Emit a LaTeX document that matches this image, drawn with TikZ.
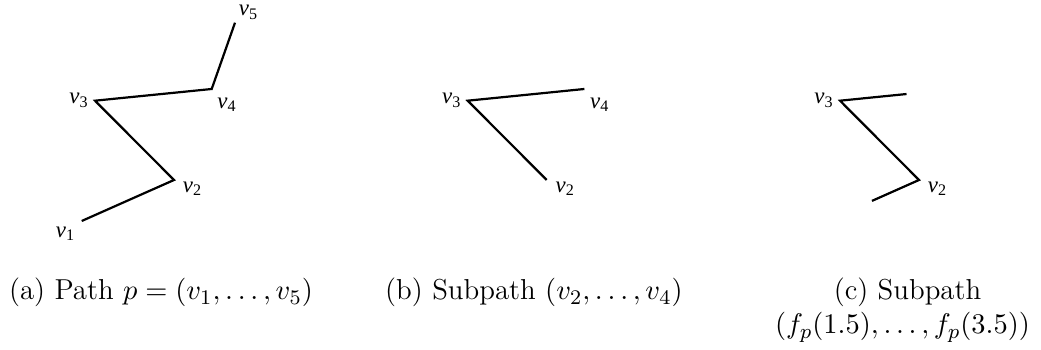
\documentclass[tikz,border=0pt]{standalone}
\usepackage{fontspec}
\newfontfamily\timesf{Liberation Serif}
\usetikzlibrary{calc}
\newcommand\vlab[1]{{\timesf\fontsize{8.8}{9}\selectfont\itshape v\raisebox{-1.3pt}{\upshape\fontsize{6.2}{6}\selectfont #1}}}
\tikzset{
  pathline/.style={line width=0.85pt, line join=miter},
  vlabel/.style={inner sep=0pt, anchor=center},
  caption/.style={inner sep=0pt, anchor=base, font=\fontsize{11.1}{13}\selectfont}
}
\begin{document}
\begin{tikzpicture}[x=0.385pt, y=-0.385pt]
\useasboundingbox (0,0) rectangle (1041,350);
% panel (a)
\coordinate (a1) at (81.7,221);
\coordinate (a2) at (174,180);
\coordinate (a3) at (95,100.7);
\coordinate (a4) at (211.7,89);
\coordinate (a5) at (235,22.7);
\draw[pathline] (a1) -- (a2) -- (a3) -- (a4) -- (a5);
\node[vlabel] (la1) at (65,234) {\vlab{1}};
\node[vlabel] (la2) at (192,188.5) {\vlab{2}};
\node[vlabel] (la3) at (78.5,100.5) {\vlab{3}};
\node[vlabel] (la4) at (226.5,105) {\vlab{4}};
\node[vlabel] (la5) at (248,12.5) {\vlab{5}};
\node[caption] (capa) at (161,300) {(a) Path $p = (v_1, \ldots, v_5)$};
% panel (b)
\begin{scope}[shift={(372.7,0)}]
\coordinate (b2) at (174,180);
\coordinate (b3) at (95,100.7);
\coordinate (b4) at (211.7,89);
\draw[pathline] (b2) -- (b3) -- (b4);
\node[vlabel] (lb2) at (192,188.5) {\vlab{2}};
\node[vlabel] (lb3) at (78.5,100.5) {\vlab{3}};
\node[vlabel] (lb4) at (226.5,105) {\vlab{4}};
\end{scope}
\node[caption] (capb) at (534,300) {(b) Subpath $(v_2, \ldots, v_4)$};
% panel (c)
\begin{scope}[shift={(745,0)}]
\coordinate (c1) at (81.7,221);
\coordinate (c2) at (174,180);
\coordinate (c3) at (95,100.7);
\coordinate (c4) at (211.7,89);
\coordinate (cs) at ($(c2)!0.51!(c1)$);
\coordinate (ce) at ($(c3)!0.57!(c4)$);
\draw[pathline] (cs) -- (c2) -- (c3) -- (ce);
\node[vlabel] (lc2) at (192,188.5) {\vlab{2}};
\node[vlabel] (lc3) at (78.5,100.5) {\vlab{3}};
\end{scope}
\node[caption] (capc1) at (907.5,300) {(c) Subpath};
\node[caption] (capc2) at (902.5,334) {$(f_p(1.5), \ldots, f_p(3.5))$};
\end{tikzpicture}
\end{document}
